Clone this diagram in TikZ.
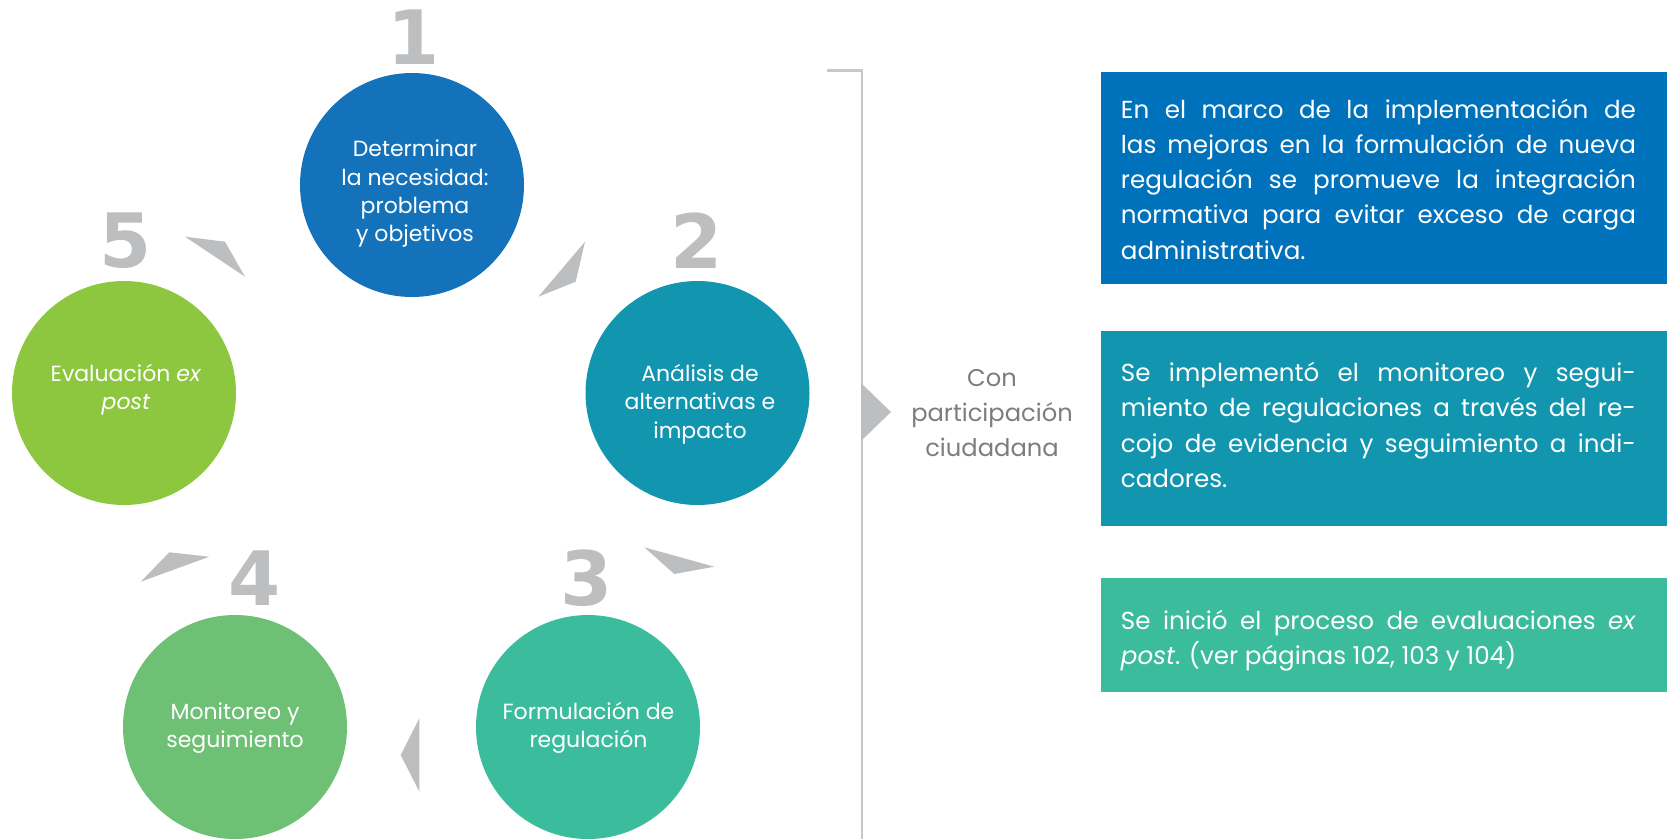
\documentclass[tikz,border=0pt]{standalone}
\usepackage{fontspec}
\setmainfont{Poppins}
\newfontfamily\numfont{DejaVu Sans}
\definecolor{cone}{RGB}{20,114,187}
\definecolor{ctwo}{RGB}{18,150,176}
\definecolor{cthree}{RGB}{59,188,156}
\definecolor{cfour}{RGB}{109,192,116}
\definecolor{cfive}{RGB}{141,198,63}
\definecolor{boxone}{RGB}{0,114,188}
\definecolor{wedgegray}{RGB}{189,190,192}
\definecolor{brkgray}{RGB}{200,200,200}
\definecolor{txtgray}{RGB}{125,125,125}
\begin{document}
\begin{tikzpicture}[x=1pt,y=-1pt,
  stage/.style={circle,fill=#1,minimum size=224pt,inner sep=0pt,draw=none},
  stagetext/.style={text=white,inner sep=0pt,anchor=base,font=\fontsize{22}{28.4}\selectfont},
  num/.style={text=wedgegray,inner sep=0pt,font=\numfont\bfseries\fontsize{75}{75}\selectfont},
  wedgefill/.style={fill=wedgegray},
  infobox/.style={fill=#1,minimum width=566pt,anchor=north west,inner sep=0pt,draw=none},
  infotext/.style={text=white,inner sep=0pt,anchor=base west,font=\fontsize{24.6}{35.2}\selectfont},
  sidetext/.style={text=txtgray,inner sep=0pt,anchor=base,font=\fontsize{24.2}{35}\selectfont},
  bracket/.style={draw=brkgray,line width=2.7pt}
]
\useasboundingbox (0,0) rectangle (1667,839);

% circles
\node[stage=cone]   (s1) at (412,185) {};
\node[stage=ctwo]   (s2) at (697.5,393) {};
\node[stage=cthree] (s3) at (588,727) {};
\node[stage=cfour]  (s4) at (235,727) {};
\node[stage=cfive]  (s5) at (124,393) {};

% circle texts
\node[stagetext] (t1) at (415,156.7) {\parbox[t]{210pt}{\centering Determinar\\la necesidad:\\problema\\y objetivos}};
\node[stagetext] (t2) at (700,381.5) {\parbox[t]{210pt}{\centering Análisis de\\alternativas e\\impacto}};
\node[stagetext] (t3) at (588.5,719) {\parbox[t]{210pt}{\centering Formulación de\\regulación}};
\node[stagetext] (t4) at (235,719) {\parbox[t]{210pt}{\centering Monitoreo y\\seguimiento}};
\node[stagetext] (t5) at (126,381) {\parbox[t]{210pt}{\centering Evaluación \textit{ex}\\\textit{post}}};

% numbers
\node[num] (n1) at (414,37) {1};
\node[num] (n2) at (697,241) {2};
\node[num] (n3) at (587,578) {3};
\node[num] (n4) at (255,578) {4};
\node[num] (n5) at (126,241) {5};

% wedges
\fill[wedgefill] (185,236.7) -- (225,241.7) -- (245,276.7) -- cycle;
\fill[wedgefill] (585,241.7) -- (575.7,281.7) -- (538.3,296.7) -- cycle;
\fill[wedgefill] (644.3,547.3) -- (674.3,574) -- (714.3,566.7) -- cycle;
\fill[wedgefill] (419.3,718.3) -- (400.7,755) -- (419.3,791.7) -- cycle;
\fill[wedgefill] (169.3,552.3) -- (209.3,556.7) -- (140.7,581.7) -- cycle;

% bracket
\coordinate (bt) at (826.7,70.7);
\coordinate (bc) at (862,70.7);
\coordinate (bb) at (862,839);
\draw[bracket] (bt) -- (bc) -- (bb);
\fill[wedgegray] (861,383) -- (891,412) -- (861,441) -- cycle;
\node[sidetext] (side) at (992,386.7) {\parbox[t]{220pt}{\centering Con\\participación\\ciudadana}};

% boxes
\node[infobox=boxone,minimum height=212pt]  (b1) at (1101,72) {};
\node[infobox=ctwo,minimum height=194.7pt]  (b2) at (1101,331) {};
\node[infobox=cthree,minimum height=113.7pt] (b3) at (1101,578) {};

\node[infotext] (bt1) at (1120.7,118.3) {\parbox[t]{515pt}{%
\makebox[515pt][s]{En el marco de la implementación de}\\
\makebox[515pt][s]{las mejoras en la formulación de nueva}\\
\makebox[515pt][s]{regulación se promueve la integración}\\
\makebox[515pt][s]{normativa para evitar exceso de carga}\\
administrativa.}};
\node[infotext] (bt2) at (1120.7,381.7) {\parbox[t]{515pt}{%
\makebox[515pt][s]{Se implementó el monitoreo y segui-}\\
\makebox[515pt][s]{miento de regulaciones a través del re-}\\
\makebox[515pt][s]{cojo de evidencia y seguimiento a indi-}\\
cadores.}};
\node[infotext] (bt3) at (1120.7,629.3) {\parbox[t]{515pt}{%
\makebox[515pt][s]{Se inició el proceso de evaluaciones \textit{ex}}\\
\textit{post}. (ver páginas 102, 103 y 104)}};
\end{tikzpicture}
\end{document}
